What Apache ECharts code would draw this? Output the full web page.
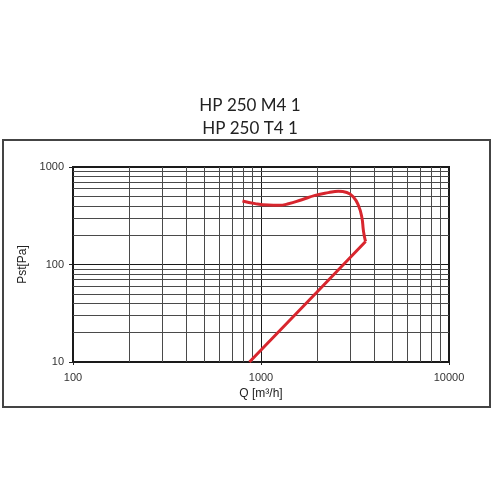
<!DOCTYPE html>
<html>
<head>
<meta charset="utf-8">
<script src="https://cdn.jsdelivr.net/npm/echarts@6/dist/echarts.min.js"></script>
<style>
  html, body { margin: 0; padding: 0; background: #fff; }
  #main { width: 500px; height: 500px; }
</style>
</head>
<body>
<div id="main"></div>
<script>
  // fan curve, Q [m3/h] vs Pst [Pa]
  const curveQ = [797, 931, 1095, 1238, 1399, 1649, 1941, 2283, 2580, 2860, 3100, 3295, 3436, 3504, 3555, 3600];
  const curveP = [448, 421, 407, 405, 419, 462, 512, 546, 563, 548, 492, 405, 307, 224, 190, 172];
  // system line down to the axis
  const lineQ = [3600, 1981, 868];
  const lineP = [172, 52, 10];

  // minor grid positions
  const minorQ = [200, 300, 400, 500, 600, 700, 800, 900, 2000, 3000, 4000, 5000, 6000, 7000, 8000, 9000];
  const minorP = [20, 30, 40, 50, 60, 70, 80, 90, 200, 300, 400, 500, 600, 700, 800, 900];

  const titleLines = ['HP 250 M4 1', 'HP 250 T4 1'];

  const myChart = echarts.init(document.getElementById('main'));
  const red = '#d8262e';
  const gridLine = '#4a4a4a';

  const markData = minorQ.map(v => ({ xAxis: v })).concat(minorP.map(v => ({ yAxis: v })));

  myChart.setOption({
    animation: false,
    backgroundColor: '#fff',
    title: {
      text: titleLines.join('\n'),
      left: 'center',
      top: 89,
      textStyle: {
        fontFamily: 'Lato',
        fontSize: 17,
        fontWeight: 'normal',
        color: '#222',
        lineHeight: 23,
      },
    },
    graphic: [{
      type: 'rect',
      shape: { x: 3, y: 140, width: 487, height: 267 },
      style: { fill: 'none', stroke: '#444', lineWidth: 2 },
      silent: true,
    }],
    grid: {
      left: 73,
      right: 51,
      top: 167,
      bottom: 138,
      show: true,
      borderColor: '#1a1a1a',
      borderWidth: 2,
      backgroundColor: 'transparent',
    },
    xAxis: {
      type: 'log',
      logBase: 10,
      min: 100,
      max: 10000,
      name: 'Q [m³/h]',
      nameLocation: 'middle',
      nameGap: 26,
      nameTextStyle: { fontFamily: 'Liberation Sans', fontSize: 12, color: '#222' },
      axisLine: { show: false },
      axisTick: { show: true, length: 3, lineStyle: { color: '#222' } },
      axisLabel: {
        margin: 10, fontFamily: 'Liberation Sans', fontSize: 11, color: '#333',
        formatter: v => String(Math.round(v)),
      },
      splitLine: { show: true, lineStyle: { color: '#1a1a1a', width: 1 } },
    },
    yAxis: {
      type: 'log',
      logBase: 10,
      min: 10,
      max: 1000,
      name: 'Pst[Pa]',
      nameLocation: 'middle',
      nameGap: 37,
      nameTextStyle: { fontFamily: 'Liberation Sans', fontSize: 12, color: '#222' },
      axisLine: { show: false },
      axisTick: { show: true, length: 4, lineStyle: { color: '#222' } },
      axisLabel: {
        margin: 9, fontFamily: 'Liberation Sans', fontSize: 11, color: '#333',
        formatter: v => String(Math.round(v)),
      },
      splitLine: { show: true, lineStyle: { color: '#1a1a1a', width: 1 } },
    },
    series: [
      {
        name: 'grid',
        type: 'line',
        data: [],
        z: 1,
        silent: true,
        markLine: {
          silent: true,
          symbol: ['none', 'none'],
          label: { show: false },
          lineStyle: { type: 'solid', color: gridLine, width: 1 },
          data: markData,
        },
      },
      {
        name: 'curve',
        type: 'line',
        z: 5,
        smooth: 0.5,
        showSymbol: false,
        lineStyle: { color: red, width: 3 },
        data: curveQ.map((q, i) => [q, curveP[i]]),
      },
      {
        name: 'line',
        type: 'line',
        z: 5,
        showSymbol: false,
        lineStyle: { color: red, width: 3 },
        data: lineQ.map((q, i) => [q, lineP[i]]),
      },
    ],
  });
</script>
</body>
</html>
